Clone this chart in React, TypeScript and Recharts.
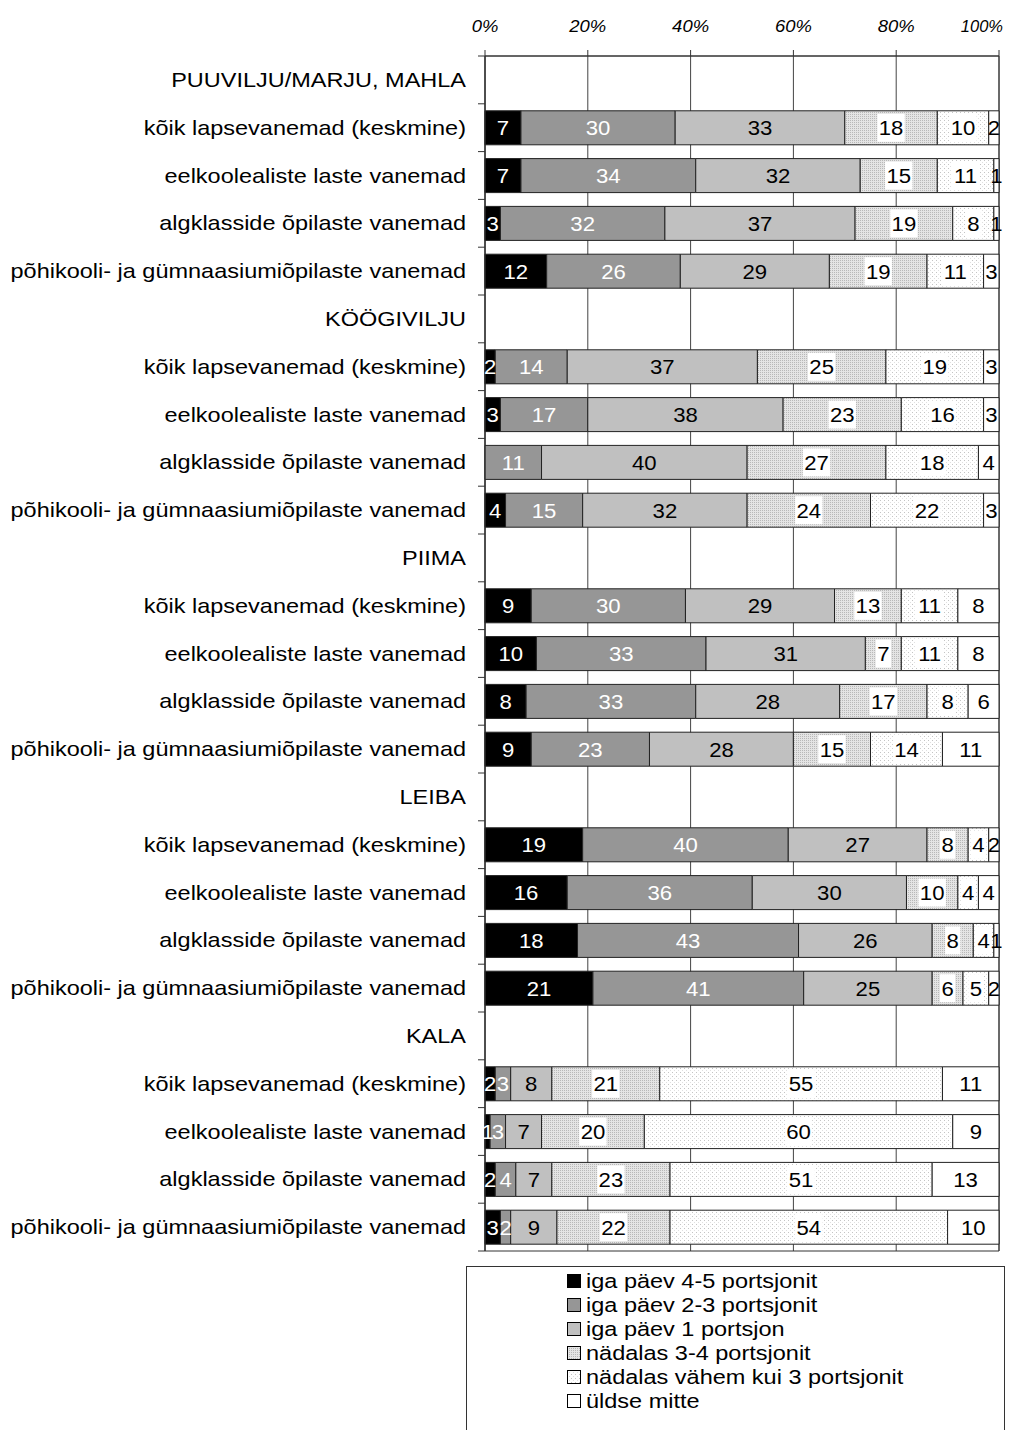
import React from 'react';
import {
  BarChart,
  Bar,
  XAxis,
  YAxis,
  CartesianGrid,
  LabelList,
  Legend,
  ReferenceArea,
} from 'recharts';

const FONT = '"Liberation Sans", Arial, sans-serif';
// text in this chart is set slightly wide
const STRETCH = 1.146;
const LABEL_SIZE = 20.5;

const rowLabels = [
  'PUUVILJU/MARJU, MAHLA',
  'kõik lapsevanemad (keskmine)',
  'eelkoolealiste laste vanemad',
  'algklasside õpilaste vanemad',
  'põhikooli- ja gümnaasiumiõpilaste vanemad',
  'KÖÖGIVILJU',
  'kõik lapsevanemad (keskmine)',
  'eelkoolealiste laste vanemad',
  'algklasside õpilaste vanemad',
  'põhikooli- ja gümnaasiumiõpilaste vanemad',
  'PIIMA',
  'kõik lapsevanemad (keskmine)',
  'eelkoolealiste laste vanemad',
  'algklasside õpilaste vanemad',
  'põhikooli- ja gümnaasiumiõpilaste vanemad',
  'LEIBA',
  'kõik lapsevanemad (keskmine)',
  'eelkoolealiste laste vanemad',
  'algklasside õpilaste vanemad',
  'põhikooli- ja gümnaasiumiõpilaste vanemad',
  'KALA',
  'kõik lapsevanemad (keskmine)',
  'eelkoolealiste laste vanemad',
  'algklasside õpilaste vanemad',
  'põhikooli- ja gümnaasiumiõpilaste vanemad',
];

// group header rows carry no values
const daily45 = [null, 7, 7, 3, 12, null, 2, 3, 0, 4, null, 9, 10, 8, 9, null, 19, 16, 18, 21, null, 2, 1, 2, 3];
const daily23 = [null, 30, 34, 32, 26, null, 14, 17, 11, 15, null, 30, 33, 33, 23, null, 40, 36, 43, 41, null, 3, 3, 4, 2];
const daily1 = [null, 33, 32, 37, 29, null, 37, 38, 40, 32, null, 29, 31, 28, 28, null, 27, 30, 26, 25, null, 8, 7, 7, 9];
const weekly34 = [null, 18, 15, 19, 19, null, 25, 23, 27, 24, null, 13, 7, 17, 15, null, 8, 10, 8, 6, null, 21, 20, 23, 22];
const weeklyLess3 = [null, 10, 11, 8, 11, null, 19, 16, 18, 22, null, 11, 11, 8, 14, null, 4, 4, 4, 5, null, 55, 60, 51, 54];
const never = [null, 2, 1, 1, 3, null, 3, 3, 4, 3, null, 8, 8, 6, 11, null, 2, 4, 1, 2, null, 11, 9, 13, 10];

const xTicks = [0, 20, 40, 60, 80, 100];

const series = [
  { key: 'd45', name: 'iga päev 4-5 portsjonit', values: daily45, fill: '#000000', text: '#ffffff', boxed: false },
  { key: 'd23', name: 'iga päev 2-3 portsjonit', values: daily23, fill: '#969696', text: '#ffffff', boxed: false },
  { key: 'd1', name: 'iga päev 1 portsjon', values: daily1, fill: '#c0c0c0', text: '#000000', boxed: false },
  { key: 'w34', name: 'nädalas 3-4 portsjonit', values: weekly34, fill: 'url(#dotsDense)', text: '#000000', boxed: true },
  { key: 'wl3', name: 'nädalas vähem kui 3 portsjonit', values: weeklyLess3, fill: 'url(#dotsSparse)', text: '#000000', boxed: true },
  { key: 'never', name: 'üldse mitte', values: never, fill: '#ffffff', text: '#000000', boxed: false },
];

const data = rowLabels.map((name, i) => {
  const row: Record<string, any> = { id: i, name };
  series.forEach((s) => {
    row[s.key] = s.values[i];
  });
  return row;
});

const W = 1013;
const H = 1422;
const PLOT_TOP = 48;
const PLOT_BOTTOM = 1243;
const AXIS_X = 477;
const PLOT_RIGHT = 991;
const BAND = (PLOT_BOTTOM - PLOT_TOP) / rowLabels.length;

const XTick = (props: any) => {
  const { x, payload } = props;
  const last = payload.value === 100;
  // the last label is pulled in so it stays on the page
  const tx = last ? PLOT_RIGHT + 4 : x;
  return (
    <text
      transform={`translate(${tx},24) scale(${last ? 1 : 1.12},1)`}
      textAnchor={last ? 'end' : 'middle'}
      fontFamily={FONT}
      fontSize={16.5}
      fontStyle="italic"
      fill="#000"
    >
      {`${payload.value}%`}
    </text>
  );
};

const YTick = (props: any) => {
  const { y, payload, index } = props;
  const top = y - BAND / 2;
  return (
    <g>
      <line x1={AXIS_X - 7} x2={AXIS_X} y1={top} y2={top} stroke="#333" />
      {index === rowLabels.length - 1 && (
        <line x1={AXIS_X - 7} x2={AXIS_X} y1={y + BAND / 2} y2={y + BAND / 2} stroke="#333" />
      )}
      <text
        transform={`translate(${AXIS_X - 19},${y}) scale(${STRETCH},1)`}
        dy="0.35em"
        textAnchor="end"
        fontFamily={FONT}
        fontSize={LABEL_SIZE}
        fill="#000"
      >
        {rowLabels[payload.value] ?? payload.value}
      </text>
    </g>
  );
};

const makeLabel = (color: string, boxed: boolean) => (props: any) => {
  const { x, y, width, height, value } = props;
  if (value == null || value === 0) return null;
  const cx = x + width / 2;
  const cy = y + height / 2;
  const tw = String(value).length * 12.2 + 3;
  return (
    <g>
      {boxed && <rect x={cx - tw / 2} y={cy - 14} width={tw} height={28} fill="#fff" />}
      <text
        transform={`translate(${cx},${cy}) scale(1.08,1)`}
        dy="0.36em"
        textAnchor="middle"
        fontFamily={FONT}
        fontSize={LABEL_SIZE}
        fill={color}
      >
        {value}
      </text>
    </g>
  );
};

const LegendBox = () => (
  <div
    style={{
      marginTop: 15,
      height: 200,
      border: '1px solid #333',
      position: 'relative',
      fontFamily: FONT,
      fontSize: LABEL_SIZE,
    }}
  >
    {series.map((s, i) => (
      <div
        key={s.key}
        style={{
          position: 'absolute',
          left: 100,
          top: 2 + i * 24,
          height: 24,
          display: 'flex',
          alignItems: 'center',
          whiteSpace: 'nowrap',
        }}
      >
        <svg width={17} height={14} style={{ marginRight: 2 }}>
          <rect x={0.5} y={0.5} width={13} height={13} fill={s.fill} stroke="#000" />
        </svg>
        <span
          style={{
            display: 'inline-block',
            transform: `scaleX(${STRETCH})`,
            transformOrigin: 'left center',
          }}
        >
          {s.name}
        </span>
      </div>
    ))}
  </div>
);

export default function App() {
  return (
    <div style={{ width: W, height: H, overflow: 'hidden' }}>
      <BarChart
        width={W}
        height={H}
        data={data}
        layout="vertical"
        barSize={34}
        margin={{ top: 0, right: W - PLOT_RIGHT, bottom: 0, left: 0 }}
      >
        <defs>
          <pattern id="dotsDense" width="2" height="2" patternUnits="userSpaceOnUse">
            <rect width="2" height="2" fill="#e4e4e4" />
            <rect width="1" height="1" fill="#b8b8b8" />
          </pattern>
          <pattern id="dotsSparse" width="4" height="4" patternUnits="userSpaceOnUse">
            <rect width="4" height="4" fill="#ffffff" />
            <rect width="1" height="1" fill="#c4c4c4" />
            <rect x="2" y="2" width="1" height="1" fill="#e0e0e0" />
          </pattern>
        </defs>
        <CartesianGrid horizontal={false} stroke="#444" />
        <XAxis
          type="number"
          orientation="top"
          domain={[0, 100]}
          ticks={xTicks}
          height={PLOT_TOP}
          tickSize={6}
          stroke="#333"
          tick={<XTick />}
        />
        <YAxis
          type="category"
          dataKey="id"
          width={AXIS_X}
          stroke="#333"
          tickLine={false}
          interval={0}
          tick={<YTick />}
        />
        {series.map((s) => (
          <Bar
            key={s.key}
            dataKey={s.key}
            name={s.name}
            stackId="all"
            fill={s.fill}
            stroke="#222"
            strokeWidth={1}
            isAnimationActive={false}
          >
            <LabelList dataKey={s.key} content={makeLabel(s.text, s.boxed)} />
          </Bar>
        ))}
        <ReferenceArea x1={0} x2={100} fill="none" stroke="#333" ifOverflow="visible" />
        <Legend
          verticalAlign="bottom"
          content={<LegendBox />}
          wrapperStyle={{ left: 458, top: PLOT_BOTTOM, width: 539, height: H - PLOT_BOTTOM, bottom: 'auto' }}
        />
      </BarChart>
    </div>
  );
}
